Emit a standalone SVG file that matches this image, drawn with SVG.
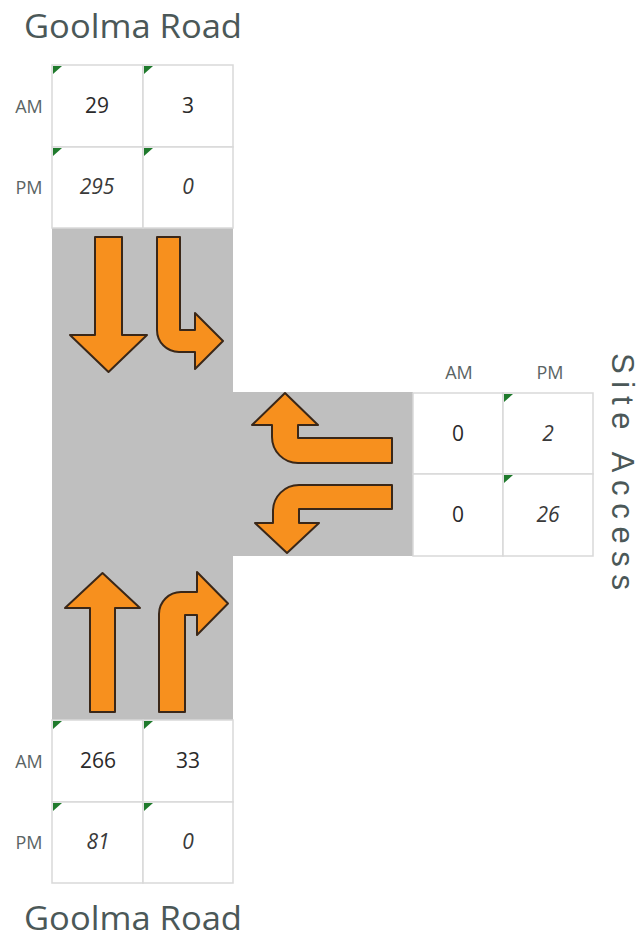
<svg xmlns="http://www.w3.org/2000/svg" width="643" height="940" viewBox="0 0 643 940">
<style>
.title{font-family:"Open Sans","Liberation Sans",sans-serif;font-size:33px;fill:#4b5858}
.side{font-family:"Liberation Sans","Open Sans",sans-serif;font-size:31px;fill:#4b5858}
.lbl{font-family:"Open Sans","Liberation Sans",sans-serif;font-size:18px;fill:#5a6464;text-anchor:middle}
.num{font-family:"Open Sans","Liberation Sans",sans-serif;font-size:21px;fill:#2a2a2a;text-anchor:middle}
.it{font-style:italic;fill:#3a3a3a}
.cell{fill:#ffffff;stroke:#d9d9d9;stroke-width:1.5}
.tri{fill:#1f7a2c}
.arrow{fill:#f7901e;stroke:#3a2718;stroke-width:2;stroke-linejoin:round}
.road{fill:#bfbfbf}
</style>
<rect width="643" height="940" fill="#ffffff"/>
<g id="road">
<rect class="road" x="52" y="228" width="181" height="492"/>
<rect class="road" x="232" y="392" width="181" height="164"/>
</g>
<g id="title-top"><text class="title" x="133" y="38" text-anchor="middle" textLength="218" lengthAdjust="spacingAndGlyphs">Goolma Road</text></g>
<g id="title-bottom"><text class="title" x="133" y="930" text-anchor="middle" textLength="218" lengthAdjust="spacingAndGlyphs">Goolma Road</text></g>
<g id="title-side"><text class="side" transform="translate(612,353) rotate(90)" x="0" y="0" textLength="237" lengthAdjust="spacing">Site Access</text></g>
<g id="table-top">
<rect class="cell" x="52" y="65" width="91" height="82"/>
<rect class="cell" x="143" y="65" width="90" height="82"/>
<rect class="cell" x="52" y="147" width="91" height="81"/>
<rect class="cell" x="143" y="147" width="90" height="81"/>
<path class="tri" d="M53,66h9l-9,8z"/><path class="tri" d="M144,66h9l-9,8z"/>
<path class="tri" d="M53,148h9l-9,8z"/><path class="tri" d="M144,148h9l-9,8z"/>
<text class="lbl" x="29" y="113">AM</text>
<text class="lbl" x="29" y="194">PM</text>
<text class="num" x="97" y="113">29</text>
<text class="num" x="188" y="113">3</text>
<text class="num it" x="97" y="194">295</text>
<text class="num it" x="188" y="194">0</text>
</g>
<g id="table-bottom">
<rect class="cell" x="52" y="720" width="91" height="82"/>
<rect class="cell" x="143" y="720" width="90" height="82"/>
<rect class="cell" x="52" y="802" width="91" height="81"/>
<rect class="cell" x="143" y="802" width="90" height="81"/>
<path class="tri" d="M53,721h9l-9,8z"/><path class="tri" d="M144,721h9l-9,8z"/>
<path class="tri" d="M53,803h9l-9,8z"/><path class="tri" d="M144,803h9l-9,8z"/>
<text class="lbl" x="29" y="768">AM</text>
<text class="lbl" x="29" y="849">PM</text>
<text class="num" x="98" y="768">266</text>
<text class="num" x="188" y="768">33</text>
<text class="num it" x="98" y="849">81</text>
<text class="num it" x="188" y="849">0</text>
</g>
<g id="table-side">
<rect class="cell" x="413" y="393" width="90" height="81"/>
<rect class="cell" x="503" y="393" width="90" height="81"/>
<rect class="cell" x="413" y="474" width="90" height="82"/>
<rect class="cell" x="503" y="474" width="90" height="82"/>
<path class="tri" d="M504,394h9l-9,8z"/><path class="tri" d="M504,475h9l-9,8z"/>
<text class="lbl" x="459" y="379">AM</text>
<text class="lbl" x="550" y="379">PM</text>
<text class="num" x="458" y="441">0</text>
<text class="num it" x="548" y="441">2</text>
<text class="num" x="458" y="522">0</text>
<text class="num it" x="548" y="522">26</text>
</g>
<g id="arrows">
<path id="arrow-s-through" class="arrow" d="M95,237 H122 V335 H147 L108.5,372 L70,335 H95 Z"/>
<path id="arrow-s-left" class="arrow" d="M157,237 H180 V330 H195 V313 L223,341 L195,369 V352 H179 A22,22 0 0 1 157,330 Z"/>
<path id="arrow-n-through" class="arrow" d="M90,712 H115 V608 H140 L102.5,573 L65,608 H90 Z"/>
<path id="arrow-n-right" class="arrow" d="M159,712 V614 A22,22 0 0 1 181,592 H197 V572 L228,603.5 L197,635 V615 H185 V712 Z"/>
<path id="arrow-w-right" class="arrow" d="M392,438 V463 H298 A26,26 0 0 1 272,437 V425 H252 L285,393 L318,425 H298 V438 Z"/>
<path id="arrow-w-left" class="arrow" d="M392,485 H299 A26,26 0 0 0 273,511 V523 H255 L287,553 L319,523 H299 V509 H392 Z"/>
</g>
</svg>
